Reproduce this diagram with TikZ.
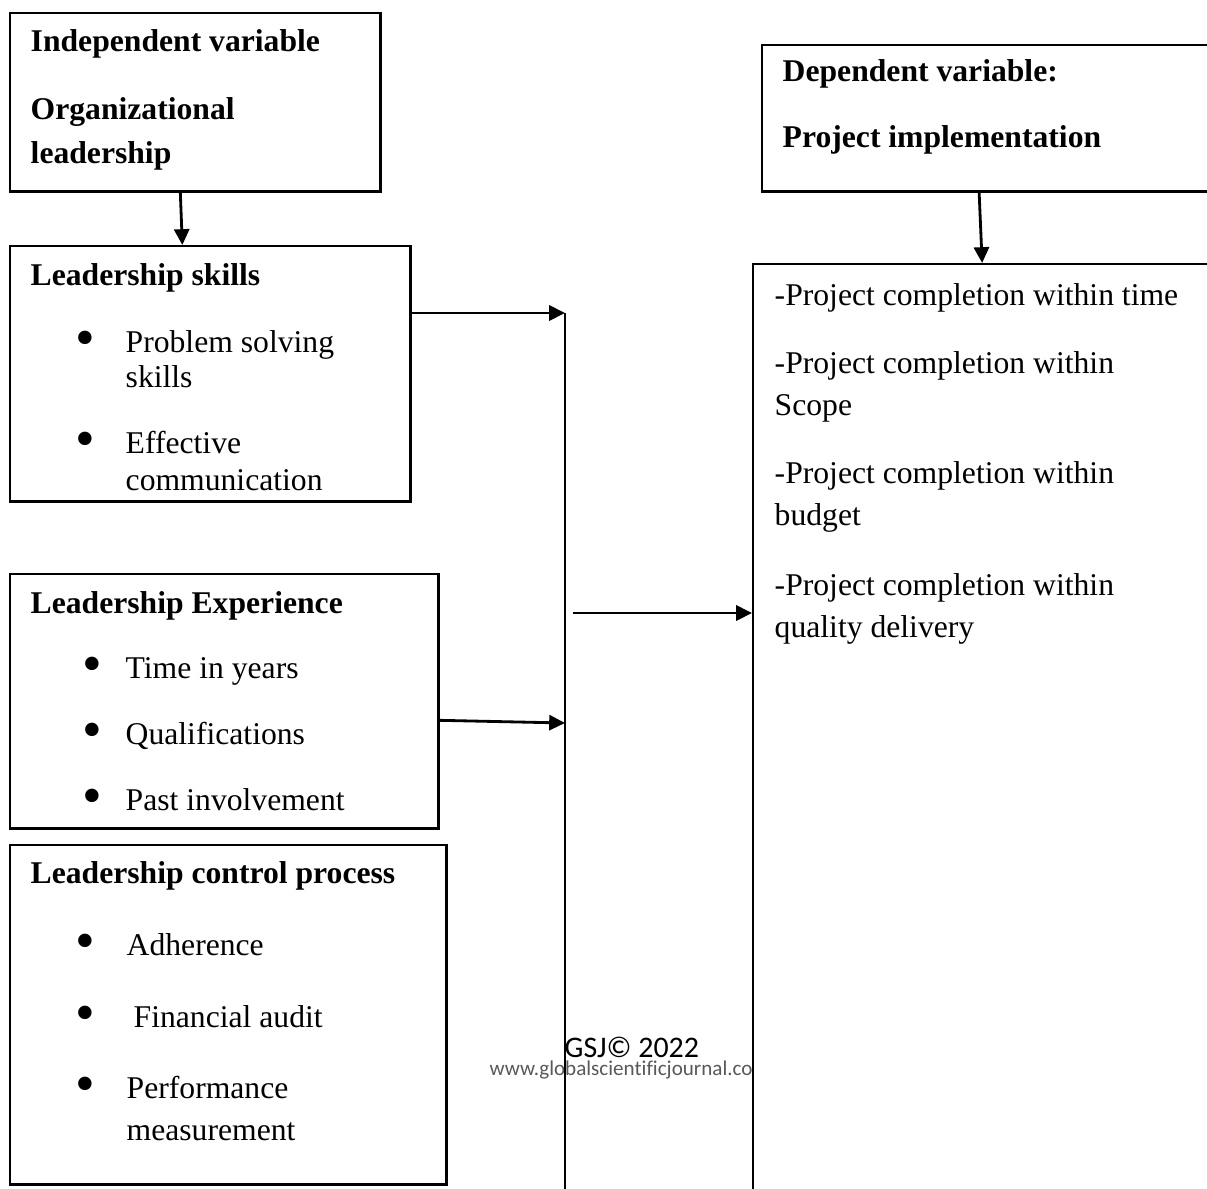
\documentclass[tikz,border=0pt]{standalone}
\usepackage{fontspec}
\setmainfont{Liberation Serif}
\newfontfamily\gsjfont[Ligatures=NoCommon]{Carlito}
\usetikzlibrary{arrows.meta}
\tikzset{
  varbox/.style={draw, line width=0.7pt, anchor=north west, inner sep=0pt, fill=white},
  head/.style={anchor=base west, inner sep=0pt, font=\fontsize{9}{11}\selectfont\bfseries},
  item/.style={anchor=base west, inner sep=0pt, font=\fontsize{9}{11}\selectfont},
  dot/.style={anchor=center, inner sep=0pt, font=\fontsize{16}{16}\selectfont},
  link/.style={-{Triangle[length=4.5pt,width=4.3pt]}, line width=0.8pt},
}

\begin{document}
\begin{tikzpicture}[x=0.01cm, y=-0.01cm]
\path[use as bounding box, clip] (0,0) rectangle (1207,1188);
\fill[white] (0,0) rectangle (1207,1188);

% boxes on the left
\node[varbox, minimum width=3.70cm, minimum height=1.78cm] (indep) at (9,12) {};
\node[varbox, minimum width=4.00cm, minimum height=2.55cm] (skills) at (9,245) {};
\node[varbox, minimum width=4.28cm, minimum height=2.54cm] (exper) at (9,573) {};
\node[varbox, minimum width=4.36cm, minimum height=3.39cm] (control) at (9,844) {};

% boxes on the right (run off the page)
\node[varbox, minimum width=5.00cm, minimum height=1.46cm] (dep) at (761,44) {};

% watermark
\node[anchor=base west, inner sep=0pt, font=\gsjfont\fontsize{8.5}{10}\selectfont] (gsj) at (564,1057) {GSJ© 2022};
\node[anchor=base west, inner sep=0pt, font=\gsjfont\fontsize{6}{7}\selectfont, text=black!65] (gsjurl) at (489,1075) {www.globalscientificjournal.co};

\node[varbox, minimum width=5.00cm, minimum height=10.00cm] (outcome) at (752,263) {};

% the bus line
\coordinate (bustop) at (565,313);
\coordinate (busin) at (565,723);
\coordinate (busout) at (573,613);
\coordinate (busend) at (565,1200);
\draw[line width=0.8pt] (bustop) -- (busend);

% connectors
\draw[link] ([xshift=-0.15cm]indep.south) -- ([xshift=-0.28cm]skills.north);
\draw[link] (skills.east |- bustop) -- (bustop);
\draw[link] ([yshift=-0.19cm]exper.east) -- (busin);
\draw[link] (busout) -- (busout -| outcome.west);
\draw[link] ([xshift=2.18cm]dep.south west) -- ([xshift=2.30cm]outcome.north west);

% independent variable
\node[head] (indepA) at (30,52) {Independent variable};
\node[head] (indepB) at (30,120) {Organizational};
\node[head] (indepC) at (30,163) {leadership};

% leadership skills
\node[head] (skillsT) at (30,285) {Leadership skills};
\node[dot] (skillsD1) at (85,343.5) {\textbullet};
\node[item] (skills1) at (125,352) {Problem solving};
\node[item] (skills1b) at (125,387) {skills};
\node[dot] (skillsD2) at (85,444.5) {\textbullet};
\node[item] (skills2) at (125,453) {Effective};
\node[item] (skills2b) at (125,490) {communication};

% leadership experience
\node[head] (experT) at (30,613) {Leadership Experience};
\node[dot] (experD1) at (92,669.5) {\textbullet};
\node[item] (exper1) at (125,678) {Time in years};
\node[dot] (experD2) at (92,735.5) {\textbullet};
\node[item] (exper2) at (125,744) {Qualifications};
\node[dot] (experD3) at (92,801.5) {\textbullet};
\node[item] (exper3) at (125,810) {Past involvement};

% control process
\node[head] (controlT) at (30,883) {Leadership control process};
\node[dot] (controlD1) at (85,946.5) {\textbullet};
\node[item] (control1) at (126,955) {Adherence};
\node[dot] (controlD2) at (85,1018.5) {\textbullet};
\node[item] (control2) at (133,1027) {Financial audit};
\node[dot] (controlD3) at (85,1089.5) {\textbullet};
\node[item] (control3) at (126,1098) {Performance};
\node[item] (control3b) at (126,1140) {measurement};

% dependent variable
\node[head] (depA) at (782,82) {Dependent variable:};
\node[head] (depB) at (782,147) {Project implementation};

% outcomes
\node[item] (out1) at (774,305) {-Project completion within time};
\node[item] (out2) at (774,373) {-Project completion within};
\node[item] (out2b) at (774,415) {Scope};
\node[item] (out3) at (774,483) {-Project completion within};
\node[item] (out3b) at (774,525) {budget};
\node[item] (out4) at (774,595) {-Project completion within};
\node[item] (out4b) at (774,637) {quality delivery};

\end{tikzpicture}
\end{document}
